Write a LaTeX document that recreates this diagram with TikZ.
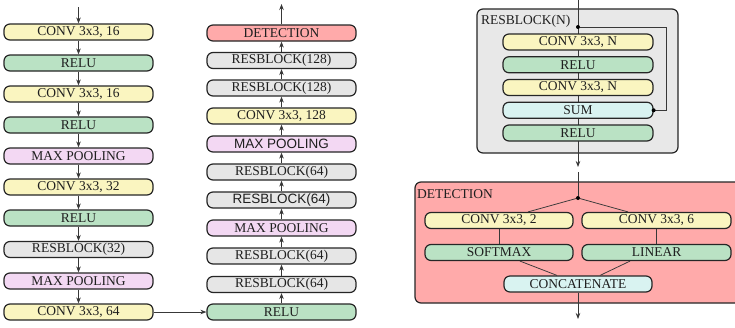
\documentclass[tikz,border=0pt]{standalone}
\usepackage{fontspec}
\setmainfont{Liberation Serif}
\newfontfamily\sfb{Liberation Sans}
\usetikzlibrary{arrows.meta}
\definecolor{cyel}{RGB}{250,245,192}
\definecolor{cgrn}{RGB}{186,226,196}
\definecolor{cpnk}{RGB}{243,216,243}
\definecolor{cgry}{RGB}{230,230,230}
\definecolor{cred}{RGB}{255,170,170}
\definecolor{ccya}{RGB}{217,243,241}
\definecolor{cbox}{RGB}{232,232,232}
\begin{document}
\begin{tikzpicture}[x=1pt,y=-1pt,
  blk/.style={draw=black!85,line width=1.2pt,rounded corners=6pt,minimum width=149pt,minimum height=16pt,inner sep=0pt,text=black!88,font=\fontsize{13.5}{13.5}\selectfont},
  yel/.style={blk,fill=cyel},
  grn/.style={blk,fill=cgrn},
  pnk/.style={blk,fill=cpnk},
  gry/.style={blk,fill=cgry},
  red/.style={blk,fill=cred},
  cya/.style={blk,fill=ccya},
  sans/.style={font=\sfb\fontsize{13.5}{13.5}\selectfont},
  conn/.style={draw=black!78,line width=0.75pt},
  arr/.style={conn,-{Stealth[length=6pt,width=4.5pt]}},
  dot/.style={circle,fill=black,inner sep=0pt,minimum size=4pt},
  frame/.style={draw=black!85,line width=1.2pt,rounded corners=6pt},
  lbl/.style={anchor=base west,inner sep=0pt,text=black!88,font=\fontsize{13.5}{13.5}\selectfont}
]
\clip (0,0) rectangle (735,327);
\fill[white] (0,0) rectangle (735,327);

% left column
\coordinate (lin) at (78.5,7);
\node[yel] (L1) at (78.5,32) {CONV 3x3, 16};
\node[grn] (L2) at (78.5,63) {RELU};
\node[yel] (L3) at (78.5,94) {CONV 3x3, 16};
\node[grn] (L4) at (78.5,125) {RELU};
\node[pnk] (L5) at (78.5,156) {MAX POOLING};
\node[yel] (L6) at (78.5,187) {CONV 3x3, 32};
\node[grn] (L7) at (78.5,218) {RELU};
\node[gry] (L8) at (78.5,249.5) {RESBLOCK(32)};
\node[pnk] (L9) at (78.5,281) {MAX POOLING};
\node[yel] (L10) at (78.5,312) {CONV 3x3, 64};
\draw[arr] (lin) -- (L1);
\foreach \a/\b in {L1/L2,L2/L3,L3/L4,L4/L5,L5/L6,L6/L7,L7/L8,L8/L9,L9/L10}
  \draw[arr] (\a) -- (\b);

% right column
\coordinate (rout) at (281.5,4);
\node[grn] (R1) at (281.5,312) {RELU};
\node[gry] (R2) at (281.5,284.5) {RESBLOCK(64)};
\node[gry] (R3) at (281.5,256) {RESBLOCK(64)};
\node[pnk] (R4) at (281.5,228) {MAX POOLING};
\node[gry,sans] (R5) at (281.5,200) {RESBLOCK(64)};
\node[gry] (R6) at (281.5,172) {RESBLOCK(64)};
\node[pnk,sans] (R7) at (281.5,144) {MAX POOLING};
\node[yel] (R8) at (281.5,116) {CONV 3x3, 128};
\node[gry] (R9) at (281.5,88) {RESBLOCK(128)};
\node[gry] (R10) at (281.5,60.5) {RESBLOCK(128)};
\node[red] (R11) at (281.5,33) {DETECTION};
\foreach \a/\b in {R1/R2,R2/R3,R3/R4,R4/R5,R5/R6,R6/R7,R7/R8,R8/R9,R9/R10,R10/R11}
  \draw[arr] (\a) -- (\b);
\draw[arr] (R11) -- (rout);
\draw[arr] (L10) -- (R1);

% resblock detail
\draw[frame,fill=cbox] (477,9) rectangle (678,153);
\node[lbl] (rbl) at (481,24) {RESBLOCK(N)};
\coordinate (btop) at (578,0);
\coordinate (bout) at (578,167);
\draw[arr] (btop) -- (bout);
\node[yel,minimum width=150pt] (B1) at (578,42) {CONV 3x3, N};
\node[grn,minimum width=150pt] (B2) at (578,64.75) {RELU};
\node[yel,minimum width=150pt] (B3) at (578,87.5) {CONV 3x3, N};
\node[cya,minimum width=150pt] (B4) at (578,110.25) {SUM};
\node[grn,minimum width=150pt] (B5) at (578,133) {RELU};
\node[dot] (bsplit) at (578,27) {};
\coordinate (bc1) at (666,27);
\coordinate (bc2) at (666,110.25);
\draw[conn] (bsplit) -- (bc1) -- (bc2) -- (B4.east);
\node[dot] at (B4.east) {};

% detection detail
\draw[frame,fill=cred] (415,182) rectangle (760,303);
\node[lbl] (dtl) at (417,198) {DETECTION};
\coordinate (dtop) at (578,172);
\node[dot] (dsplit) at (578,198) {};
\draw[conn] (dtop) -- (dsplit);
\node[yel,minimum width=148pt] (D1) at (499,220.5) {CONV 3x3, 2};
\node[yel,minimum width=149pt] (D2) at (656.5,220.5) {CONV 3x3, 6};
\node[grn,minimum width=148pt] (D3) at (499,252.5) {SOFTMAX};
\node[grn,minimum width=149pt] (D4) at (656.5,252.5) {LINEAR};
\node[cya,minimum width=148pt] (D5) at (578,284) {CONCATENATE};
\coordinate (dout) at (578,319);
\draw[conn] (dsplit) -- ([xshift=29pt]D1.north);
\draw[conn] (dsplit) -- ([xshift=-28.5pt]D2.north);
\draw[conn] (D1) -- (D3);
\draw[conn] (D2) -- (D4);
\draw[conn] ([xshift=21pt]D3.south) -- ([xshift=-21pt]D5.north);
\draw[conn] ([xshift=-26.5pt]D4.south) -- ([xshift=22pt]D5.north);
\draw[arr] (D5) -- (dout);
\end{tikzpicture}
\end{document}
